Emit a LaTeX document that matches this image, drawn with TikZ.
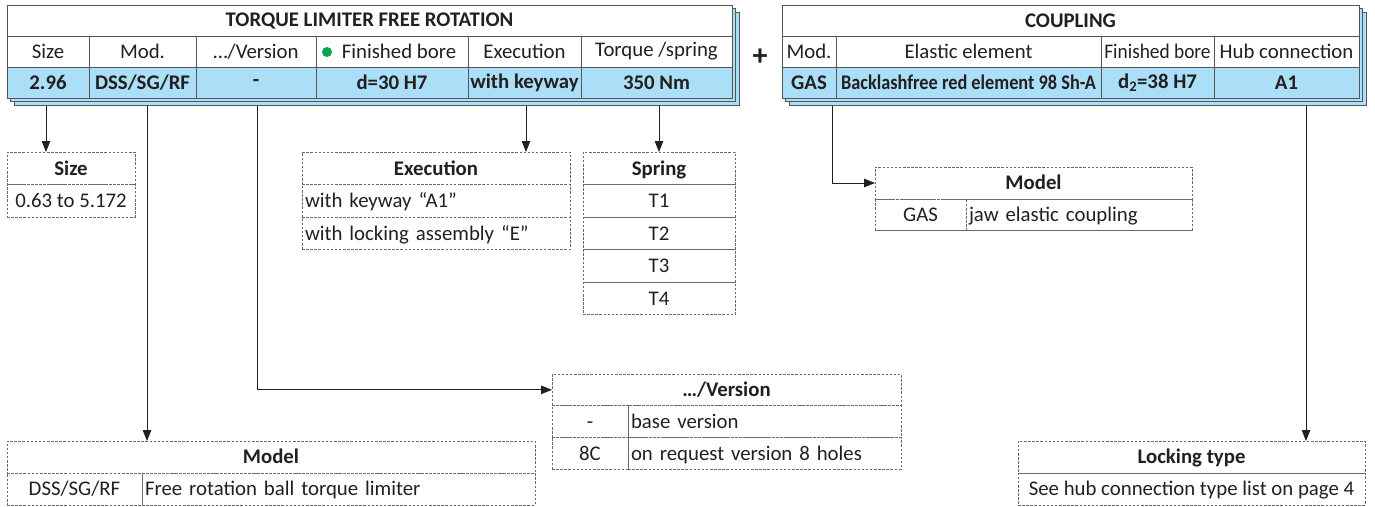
\documentclass[tikz,border=0pt]{standalone}
\usepackage{fontspec}
\setmainfont{Carlito}
\usepackage{graphicx}
\usetikzlibrary{arrows.meta}

\definecolor{rowblue}{RGB}{171,223,247}
\definecolor{linegray}{RGB}{85,85,85}
\definecolor{dashgray}{RGB}{105,105,105}
\definecolor{dotgreen}{RGB}{0,166,81}
\definecolor{txt}{RGB}{35,31,32}

\newcommand{\cellfont}{\fontsize{20.8}{25}\selectfont}

\tikzset{
  cell/.style={draw=linegray, fill=white, line width=0.9pt, inner sep=0pt, outer sep=0pt, minimum height=31pt, text=txt},
  valcell/.style={cell, fill=rowblue, font=\cellfont\bfseries},
  titlecell/.style={cell, font=\cellfont\bfseries},
  layer/.style={draw=linegray, line width=0.8pt, fill=rowblue},
  opt/.style={draw=dashgray, dash pattern=on 2.5pt off 1.6pt, line width=0.8pt, inner sep=0pt, inner xsep=3pt, outer sep=0pt, minimum height=32.5pt, text height=16.5pt, text depth=3pt, text=txt},
  opttitle/.style={opt, font=\cellfont\bfseries},
  optleft/.style={opt, align=left, text width=#1},
  arr/.style={-{Triangle[length=11pt,width=8.5pt]}, draw=txt, line width=0.8pt, shorten <=8pt},
}

\begin{document}
\begin{tikzpicture}[x=1pt, y=-1pt, every node/.style={font=\cellfont}]
\useasboundingbox (0,0) rectangle (1375,506);

% torque limiter table
\draw[layer] (14,12) rectangle (739,105);
\draw[layer] (10.5,8.5) rectangle (735.5,101.5);
\node[titlecell, minimum width=725pt] (tltitle) at (369.5,20.5) {TORQUE LIMITER FREE ROTATION};
\node[cell, minimum width=82pt] (sizehead) at (48,51.5) {Size};
\node[cell, minimum width=107pt] (modhead) at (142.5,51.5) {Mod.};
\node[cell, minimum width=120pt] (verhead) at (256,51.5) {…/Version};
\node[cell, minimum width=152pt] (borehead) at (392,51.5) {\hspace*{14pt}Finished bore};
\node[cell, minimum width=113pt] (exehead) at (524.5,51.5) {Execution};
\node[cell, minimum width=151pt] (torqhead) at (656.5,51.5) {Torque /spring};
\node[valcell, minimum width=82pt] (sizeval) at (48,82.5) {2.96};
\node[valcell, minimum width=107pt] (modval) at (142.5,82.5) {DSS/SG/RF};
\node[valcell, minimum width=120pt] (verval) at (256,82.5) {-};
\node[valcell, minimum width=152pt] (boreval) at (392,82.5) {d=30 H7};
\node[valcell, minimum width=113pt] (exeval) at (524.5,82.5) {with keyway};
\node[valcell, minimum width=151pt] (torqval) at (656.5,82.5) {350 Nm};
\fill[dotgreen] (327,52) circle (5);

\node[font=\fontsize{30}{30}\selectfont\bfseries, text=txt] (plus) at (760,57) {+};

% coupling table
\draw[layer] (789,12) rectangle (1366,105);
\draw[layer] (785.5,8.5) rectangle (1362.5,101.5);
\node[titlecell, minimum width=577pt] (cptitle) at (1070.5,20.5) {COUPLING};
\node[cell, minimum width=54pt] (gashead) at (809,51.5) {Mod.};
\node[cell, minimum width=265pt] (elahead) at (968.5,51.5) {Elastic element};
\node[cell, minimum width=113pt] (bore2head) at (1157.5,51.5) {\scalebox{0.93}[1]{Finished bore}};
\node[cell, minimum width=145pt] (hubhead) at (1286.5,51.5) {Hub connection};
\node[valcell, minimum width=54pt] (gasval) at (809,82.5) {GAS};
\node[valcell, minimum width=265pt] (elaval) at (968.5,82.5) {\scalebox{0.88}[1]{Backlashfree red element 98 Sh-A}};
\node[valcell, minimum width=113pt] (bore2val) at (1157.5,82.5) {d\textsubscript{2}=38 H7};
\node[valcell, minimum width=145pt] (hubval) at (1286.5,82.5) {A1};

% size
\node[opttitle, minimum width=128pt] (sizetitle) at (71,168.25) {Size};
\node[opt, minimum width=128pt] (sizerange) at (71,200.75) {0.63 to 5.172};

% execution
\node[opttitle, minimum width=268pt] (exetitle) at (436,168.25) {Execution};
\node[optleft=262pt] (exekey) at (436,200.75) {with keyway “A1”};
\node[optleft=262pt] (exelock) at (436,233.25) {with locking assembly “E”};

% spring
\node[opttitle, minimum width=152pt] (springtitle) at (659,168.25) {Spring};
\node[opt, minimum width=152pt] (springa) at (659,200.75) {T1};
\node[opt, minimum width=152pt] (springb) at (659,233.25) {T2};
\node[opt, minimum width=152pt] (springc) at (659,265.75) {T3};
\node[opt, minimum width=152pt] (springd) at (659,298.25) {T4};

% coupling model
\node[opttitle, minimum width=317pt, minimum height=32pt] (cmodtitle) at (1033.5,183) {Model};
\node[opt, minimum width=91pt, minimum height=31pt] (cmodgas) at (920.5,214.5) {GAS};
\node[optleft=220pt, minimum height=31pt] (cmodtxt) at (1079,214.5) {jaw elastic coupling};
\draw[dashgray, line width=0.8pt] (cmodgas.south west) -- (cmodtxt.south east);

% version
\node[opttitle, minimum width=349pt, minimum height=31.7pt] (vertitle) at (726.5,389.85) {…/Version};
\node[opt, minimum width=76pt, minimum height=31.7pt] (verbase) at (590,421.55) {-};
\node[optleft=267pt, minimum height=31.7pt] (verbasetxt) at (764.5,421.55) {base version};
\node[opt, minimum width=76pt, minimum height=31.7pt] (vereight) at (590,453.25) {8C};
\node[optleft=267pt, minimum height=31.7pt] (vereighttxt) at (764.5,453.25) {on request version 8 holes};

% model
\node[opttitle, minimum width=528pt, minimum height=32pt] (modeltitle) at (271,457) {Model};
\node[opt, minimum width=135pt, minimum height=32pt] (modelcode) at (74.5,489) {DSS/SG/RF};
\node[optleft=387pt, minimum height=32pt] (modeltxt) at (338.5,489) {Free rotation ball torque limiter};

% locking type
\node[opttitle, minimum width=347pt, minimum height=32pt] (locktitle) at (1191.5,457) {Locking type};
\node[opt, minimum width=347pt, minimum height=32pt] (locktxt) at (1191.5,489) {See hub connection type list on page 4};

% arrows
\draw[arr] ([xshift=-2pt]sizeval.south) -- ([xshift=-2pt]sizeval.south |- sizetitle.north);
\draw[arr] ([xshift=4.5pt]modval.south) -- ([xshift=4.5pt]modval.south |- modeltitle.north);
\draw[arr] ([xshift=1pt]verval.south) |- (vertitle.west);
\draw[arr] ([xshift=1.5pt]exeval.south) -- ([xshift=1.5pt]exeval.south |- exetitle.north);
\draw[arr] (springtitle.north |- torqval.south) -- (springtitle.north);
\draw[arr] ([xshift=23pt]gasval.south) |- (cmodtitle.west);
\draw[arr] ([xshift=19.5pt]hubval.south) -- ([xshift=19.5pt]hubval.south |- locktitle.north);

\end{tikzpicture}
\end{document}
